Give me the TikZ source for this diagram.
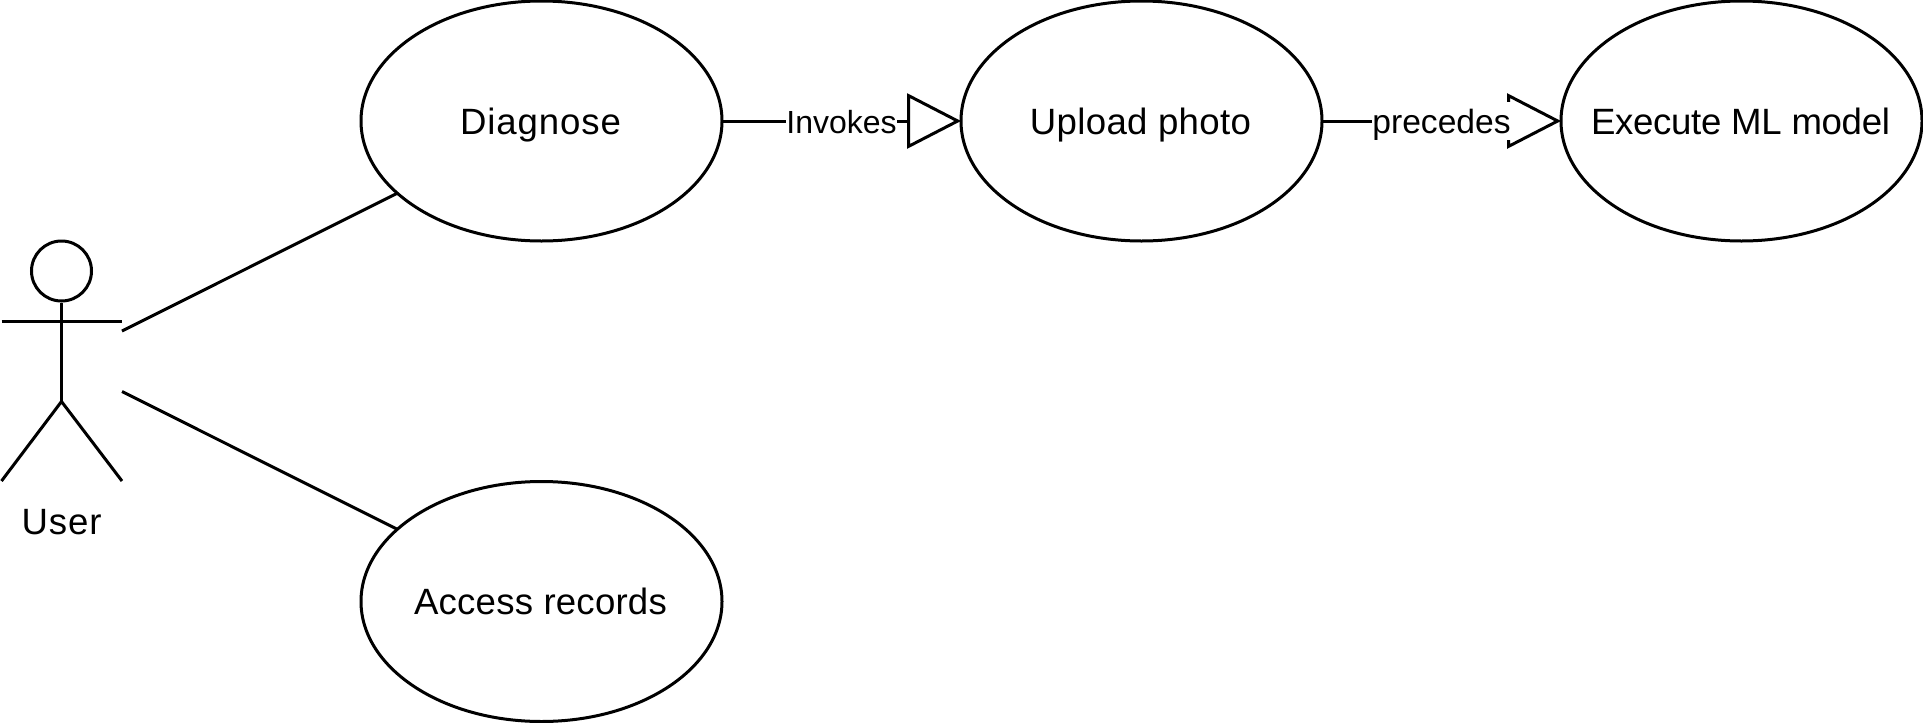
\documentclass[tikz,border=0pt]{standalone}
\usepackage{fontspec}
\setmainfont{Liberation Sans}
\usetikzlibrary{arrows.meta,shapes.geometric}
\newcommand{\uctext}[2]{\hspace{-1pt}\makebox[0pt]{\smash{\raisebox{-6.5pt}{\addfontfeature{LetterSpace=#1}#2}}}}
\tikzset{
  usecase/.style={draw,ellipse,line width=1.5pt,outer sep=0pt,minimum width=180.5pt,minimum height=120pt,inner sep=0pt,font=\fontsize{18.3}{22}\selectfont},
  stick/.style={line width=1.5pt},
  edgetext/.style={fill=white,inner sep=0pt,minimum height=19pt,text height=12.5pt,text depth=0pt},
  closedtip/.style={-{Triangle[open,fill=white,length=27pt,width=27.5pt,line width=1.5pt]}},
  link/.style={line width=1.5pt}
}
\begin{document}
\begin{tikzpicture}[x=0.5pt,y=-0.5pt]
\useasboundingbox (0,0) rectangle (1923,723);
\node[usecase] (diag) at (541.5,121) {\uctext{2.4}{Diagnose}};
\node[usecase] (upload) at (1141.5,121) {\uctext{0.9}{Upload photo}};
\node[usecase] (exec) at (1741.5,121) {\uctext{-0.9}{Execute ML model}};
\node[usecase] (access) at (541.5,601.5) {\uctext{0.6}{Access records}};
% actor
\node[draw,circle,line width=1.5pt,minimum size=30pt,inner sep=0pt] (head) at (61.5,271) {};
\coordinate (armL) at (1.5,321);
\coordinate (armR) at (122,321);
\coordinate (hip) at (61.5,401.5);
\coordinate (legL) at (1.5,481);
\coordinate (legR) at (122,481);
\draw[stick] (head.south) -- (hip);
\draw[stick] (armL) -- (armR);
\draw[stick] (legL) -- (hip) -- (legR);
\node[font=\fontsize{18.3}{22}\selectfont\addfontfeature{LetterSpace=2.4},inner sep=0pt,anchor=base] (user) at (61.5,534) {User};
% connectors
\coordinate (handA) at (122,331);
\coordinate (handB) at (122,391.5);
\draw[link] (handA) -- (diag);
\draw[link] (handB) -- (access);
\draw[link,closedtip] (diag) -- node[edgetext,font=\fontsize{16}{20}\selectfont] (invokes) {Invokes} (upload);
\draw[link,closedtip] (upload) -- node[edgetext,font=\fontsize{16.8}{20}\selectfont] (precedes) {precedes} (exec);
\end{tikzpicture}
\end{document}
